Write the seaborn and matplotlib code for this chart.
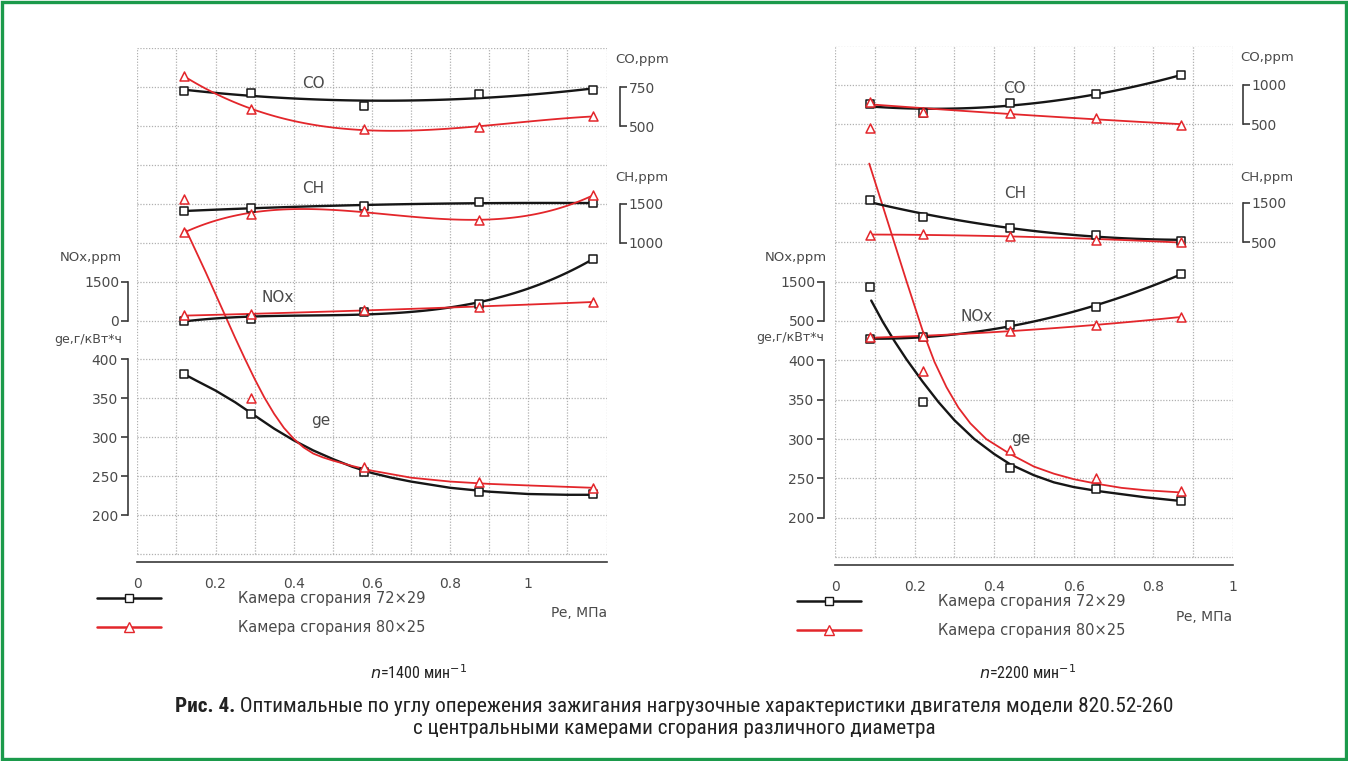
import numpy as np
import matplotlib
matplotlib.use("Agg")
import matplotlib.pyplot as plt
import matplotlib.font_manager as fm
import seaborn as sns
from matplotlib.lines import Line2D
from matplotlib.patches import Rectangle

sns.set_theme(style="white")
plt.rcParams['font.family'] = ['DejaVu Sans']

# ---------------- data ----------------
pe_1400 = [0.12, 0.29, 0.58, 0.875, 1.165]
pe_2200 = [0.088, 0.22, 0.44, 0.655, 0.87]

co_72_1400 = [728, 713, 631, 706, 733]
co_80_1400 = [821, 608, 478, 496, 562]
ch_72_1400 = [1406, 1449, 1470, 1521, 1505]
ch_80_1400 = [1137, 1372, 1406, 1286, 1610]
nox_72_1400 = [0, 65, 326, 652, 2380]
nox_80_1400 = [196, 235, 417, 522, 720]
ge_72_1400 = [381, 330, 255, 230, 227]
ge_80_1400 = [606, 351, 262, 243, 235]

co_72_2200 = [757, 638, 766, 885, 1119]
co_80_2200 = [779, 660, 638, 583, 489]
ch_72_2200 = [1567, 1150, 875, 683, 542]
ch_80_2200 = [683, 708, 650, 567, 500]
nox_72_2200 = [48, 82, 396, 866, 1700]
nox_80_2200 = [82, 108, 256, 396, 604]
ge_72_2200 = [493, 347, 263, 237, 221]
ge_80_2200 = [695, 387, 286, 251, 234]

# ge approximation curves as drawn in the picture
ge_curve_pe_72_1400 = [0.12, 0.15, 0.20, 0.25, 0.30, 0.35, 0.40, 0.45, 0.50, 0.55, 0.60,
                       0.65, 0.70, 0.80, 0.90, 1.00, 1.10, 1.165]
ge_curve_72_1400 = [381, 373, 360, 345, 328, 311, 296, 283, 272, 262, 254,
                    248, 243, 235, 230, 227, 226, 226]
ge_curve_pe_80_1400 = [0.125, 0.15, 0.175, 0.20, 0.225, 0.25, 0.275, 0.30, 0.325, 0.35,
                       0.375, 0.40, 0.425, 0.45, 0.475, 0.50, 0.55, 0.60, 0.70, 0.80,
                       0.90, 1.00, 1.165]
ge_curve_80_1400 = [566, 539, 512, 484, 456, 428, 401, 375, 351, 330,
                    312, 298, 287, 279, 274, 270, 263, 257, 248, 243,
                    240, 238, 235]
ge_curve_pe_72_2200 = [0.091, 0.12, 0.15, 0.18, 0.22, 0.26, 0.30, 0.35, 0.40, 0.44,
                       0.50, 0.55, 0.60, 0.66, 0.72, 0.78, 0.875]
ge_curve_72_2200 = [476, 449, 424, 401, 373, 347, 324, 300, 281, 268,
                    254, 245, 239, 234, 230, 226, 221]
ge_curve_pe_80_2200 = [0.086, 0.12, 0.15, 0.18, 0.22, 0.25, 0.28, 0.31, 0.34, 0.38,
                       0.44, 0.50, 0.55, 0.60, 0.66, 0.72, 0.78, 0.875]
ge_curve_80_2200 = [650, 596, 548, 500, 438, 398, 366, 340, 320, 300,
                    281, 265, 256, 249, 243, 238, 235, 232]

chamber_labels = ["Камера сгорания 72×29", "Камера сгорания 80×25"]
speed_labels = ["1400", "2200"]
x_tick_labels = ["0", "0.2", "0.4", "0.6", "0.8", "1"]
ge_ticks = [200, 250, 300, 350, 400]
nox_ticks_1400, ch_ticks_1400, co_ticks_1400 = [0, 1500], [1000, 1500], [500, 750]
nox_ticks_2200, ch_ticks_2200, co_ticks_2200 = [500, 1500], [500, 1500], [500, 1000]

# ---------------- style ----------------
W, H = 1348, 761
BLACK = "#161616"
RED = "#e3262b"
AXC = "#3a3a3a"
TXT = "#4a4a4a"
GRID = "#b0b0b0"

fig = plt.figure(figsize=(W / 100, H / 100), dpi=100, facecolor="white")


def fx(px):
    return px / W


def fy(py):
    return 1 - py / H


def make_twin(ax, e0, v0, k, side, ticks, out):
    tw = ax.twinx()
    lim = (v0 + (140 - e0) * k, v0 + (800 - e0) * k)
    for s in tw.spines.values():
        s.set_visible(False)
    sp = tw.spines[side]
    sp.set_visible(True)
    sp.set_bounds(ticks[0], ticks[-1])
    sp.set_position(("outward", out))
    sp.set_color(AXC)
    sp.set_linewidth(1.2)
    if side == "left":
        tw.yaxis.tick_left()
    else:
        tw.yaxis.tick_right()
    tw.set_yticks(ticks)
    tw.tick_params(axis="y", direction="out", length=5, width=1.2, colors=AXC,
                   labelcolor=TXT, labelsize=10, pad=1)
    return tw, lim


def markers(axis, pe, vals, color, marker, size):
    sns.scatterplot(x=pe, y=vals, ax=axis, marker=marker, s=size, color="white",
                    edgecolor=color, linewidth=1.1, zorder=5, legend=False)


def draw_fit(axis, pe, vals, color, marker, order, lw, size):
    sns.regplot(x=np.array(pe, float), y=np.array(vals, float), ax=axis, order=order,
                ci=None, scatter=False, truncate=True,
                line_kws=dict(color=color, lw=lw, zorder=3))
    markers(axis, pe, vals, color, marker, size)


def draw_curve(axis, pe, vals, cx, cy, color, marker, lw, size):
    sns.lineplot(x=cx, y=cy, ax=axis, color=color, lw=lw, sort=False,
                 estimator=None, zorder=3)
    markers(axis, pe, vals, color, marker, size)


def panel(rect, pe, xmax, data, ge_curves, scales, ticks, orders, labels_pos, out_l, out_r):
    ax = fig.add_axes(rect)
    ax.set_facecolor("none")
    ax.hlines(np.arange(150, 801, 50), 0, xmax, colors=GRID, lw=0.9,
              linestyles=(0, (1, 1.3)), zorder=0)
    ax.vlines(np.arange(0, xmax + 1e-9, 0.1), 150, 800, colors=GRID, lw=0.9,
              linestyles=(0, (1, 1.3)), zorder=0)
    for s in ["top", "right"]:
        ax.spines[s].set_visible(False)
    ax.spines["bottom"].set_bounds(0, xmax)
    ax.spines["bottom"].set_color(AXC)
    ax.spines["bottom"].set_linewidth(1.2)
    ax.spines["left"].set_bounds(ge_ticks[0], ge_ticks[-1])
    ax.spines["left"].set_position(("outward", out_l))
    ax.spines["left"].set_color(AXC)
    ax.spines["left"].set_linewidth(1.2)
    ax.set_yticks(ge_ticks)
    xt = np.round(np.arange(0, xmax + 1e-9, 0.1), 1)
    lab = {float(s): s for s in x_tick_labels}
    ax.set_xticks(xt)
    ax.set_xticklabels([lab.get(float(v), "") for v in xt])
    ax.tick_params(axis="both", direction="out", length=5, width=1.2, colors=AXC,
                   labelcolor=TXT, labelsize=10, pad=2)
    ax.tick_params(axis="x", pad=6)

    twins = {}
    twins["nox"] = make_twin(ax, *scales["nox"], "left", ticks["nox"], out_l)
    twins["ch"] = make_twin(ax, *scales["ch"], "right", ticks["ch"], out_r)
    twins["co"] = make_twin(ax, *scales["co"], "right", ticks["co"], out_r)

    (cx0, cy0), (cx1, cy1) = ge_curves
    draw_curve(ax, pe, data["ge"][0], cx0, cy0, BLACK, "s", 1.7, 30)
    draw_curve(ax, pe, data["ge"][1], cx1, cy1, RED, "^", 1.3, 42)
    for key in ["nox", "ch", "co"]:
        tw, lim = twins[key]
        draw_fit(tw, pe, data[key][0], BLACK, "s", orders[key][0], 1.7, 30)
        draw_fit(tw, pe, data[key][1], RED, "^", orders[key][1], 1.3, 42)
        tw.set_ylim(*lim)
        tw.set_xlim(0, xmax)
    ax.set_xlim(0, xmax)
    ax.set_ylim(140, 800)
    ax.set_xlabel("")
    ax.set_ylabel("")
    for name, (x, y) in labels_pos.items():
        ax.text(x, y, name, fontsize=11, color=TXT, ha="center", va="center", zorder=6)
    return ax


# ---------- left panel (n = 1400) ----------
panel([fx(137.3), fy(561.7), 469.2 / W, (561.7 - 48.2) / H], pe_1400, 1.2,
      {"ge": (ge_72_1400, ge_80_1400), "nox": (nox_72_1400, nox_80_1400),
       "ch": (ch_72_1400, ch_80_1400), "co": (co_72_1400, co_80_1400)},
      ((ge_curve_pe_72_1400, ge_curve_72_1400), (ge_curve_pe_80_1400, ge_curve_80_1400)),
      {"nox": (450, 0, 30), "ch": (550, 1000, 10), "co": (700, 500, 5)},
      {"nox": nox_ticks_1400, "ch": ch_ticks_1400, "co": co_ticks_1400},
      {"nox": (3, 2), "ch": (2, 3), "co": (2, 3)},
      {"CO": (0.45, 754), "CH": (0.45, 620), "NOx": (0.36, 479), "ge": (0.47, 322)},
      7, 10)

# ---------- right panel (n = 2200) ----------
panel([fx(835), fy(565), 398 / W, (565 - 45.5) / H], pe_2200, 1.0,
      {"ge": (ge_72_2200, ge_80_2200), "nox": (nox_72_2200, nox_80_2200),
       "ch": (ch_72_2200, ch_80_2200), "co": (co_72_2200, co_80_2200)},
      ((ge_curve_pe_72_2200, ge_curve_72_2200), (ge_curve_pe_80_2200, ge_curve_80_2200)),
      {"nox": (450, 500, 20), "ch": (550, 500, 20), "co": (700, 500, 10)},
      {"nox": nox_ticks_2200, "ch": ch_ticks_2200, "co": co_ticks_2200},
      {"nox": (2, 2), "ch": (2, 2), "co": (2, 2)},
      {"CO": (0.452, 746), "CH": (0.452, 612), "NOx": (0.355, 456), "ge": (0.467, 301)},
      8, 7)

# axis name labels
for (px, py, s, ha, fs) in [(122, 257, "NOx,ppm", "right", 9.5), (122, 339, "ge,г/кВт*ч", "right", 9),
                            (615, 60, "CO,ppm", "left", 9.5), (615, 177, "CH,ppm", "left", 9.5),
                            (827, 257, "NOx,ppm", "right", 9.5), (824, 337, "ge,г/кВт*ч", "right", 9),
                            (1240, 57, "CO,ppm", "left", 9.5), (1240, 177, "CH,ppm", "left", 9.5)]:
    fig.text(fx(px), fy(py), s, ha=ha, va="center", fontsize=fs, color=TXT)

fig.text(fx(579), fy(613), "Pe, МПа", ha="center", va="center", fontsize=10, color=TXT)
fig.text(fx(1204), fy(617), "Pe, МПа", ha="center", va="center", fontsize=10, color=TXT)

# legends
handles = [Line2D([0], [0], color=BLACK, lw=1.8, marker="s", ms=6, mfc="white", mec=BLACK),
           Line2D([0], [0], color=RED, lw=1.8, marker="^", ms=6.5, mfc="white", mec=RED)]
for (px, py) in [(97, 591), (797, 594)]:
    fig.legend(handles, chamber_labels, loc="upper left",
               bbox_to_anchor=(fx(px), fy(py)), bbox_transform=fig.transFigure,
               frameon=False, fontsize=10.5, labelcolor=TXT, handlelength=4.4,
               handletextpad=5.3, labelspacing=0.95, borderpad=0, borderaxespad=0,
               numpoints=1)


# captions
def pick(fams):
    for f in fams:
        try:
            fm.findfont(fm.FontProperties(family=f), fallback_to_default=False)
            return f
        except Exception:
            pass
    return "DejaVu Sans"


cap_font = pick(["Liberation Sans Narrow", "Roboto Condensed", "DejaVu Sans"])
cap_kw = dict(family=[cap_font, "DejaVu Sans"], color="#222222", va="center")
if cap_font == "DejaVu Sans":
    cap_kw["stretch"] = "condensed"

for cx, sp in [(419, speed_labels[0]), (1028, speed_labels[1])]:
    fig.text(fx(cx), fy(673), r"$n$=" + sp + r" мин$^{-1}$", ha="center", fontsize=11.5, **cap_kw)

r = fig.canvas.get_renderer()
line1a = "Рис. 4."
line1b = " Оптимальные по углу опережения зажигания нагрузочные характеристики двигателя модели 820.52-260"
CAP_FS = 15.3
t1 = fig.text(0, fy(707), line1a, ha="left", fontsize=CAP_FS, weight="bold", **cap_kw)
t2 = fig.text(0, fy(707), line1b, ha="left", fontsize=CAP_FS, **cap_kw)
w1 = t1.get_window_extent(r).width
w2 = t2.get_window_extent(r).width
x0 = (W - (w1 + w2)) / 2
t1.set_x(fx(x0))
t2.set_x(fx(x0 + w1))
fig.text(0.5, fy(729), "с центральными камерами сгорания различного диаметра",
         ha="center", fontsize=CAP_FS, **cap_kw)

fig.add_artist(Rectangle((0.0015, 0.002), 0.997, 0.996, transform=fig.transFigure,
                         fill=False, edgecolor="#1b9a4b", lw=2.4))

fig.savefig("out.png", dpi=100, facecolor="white")
